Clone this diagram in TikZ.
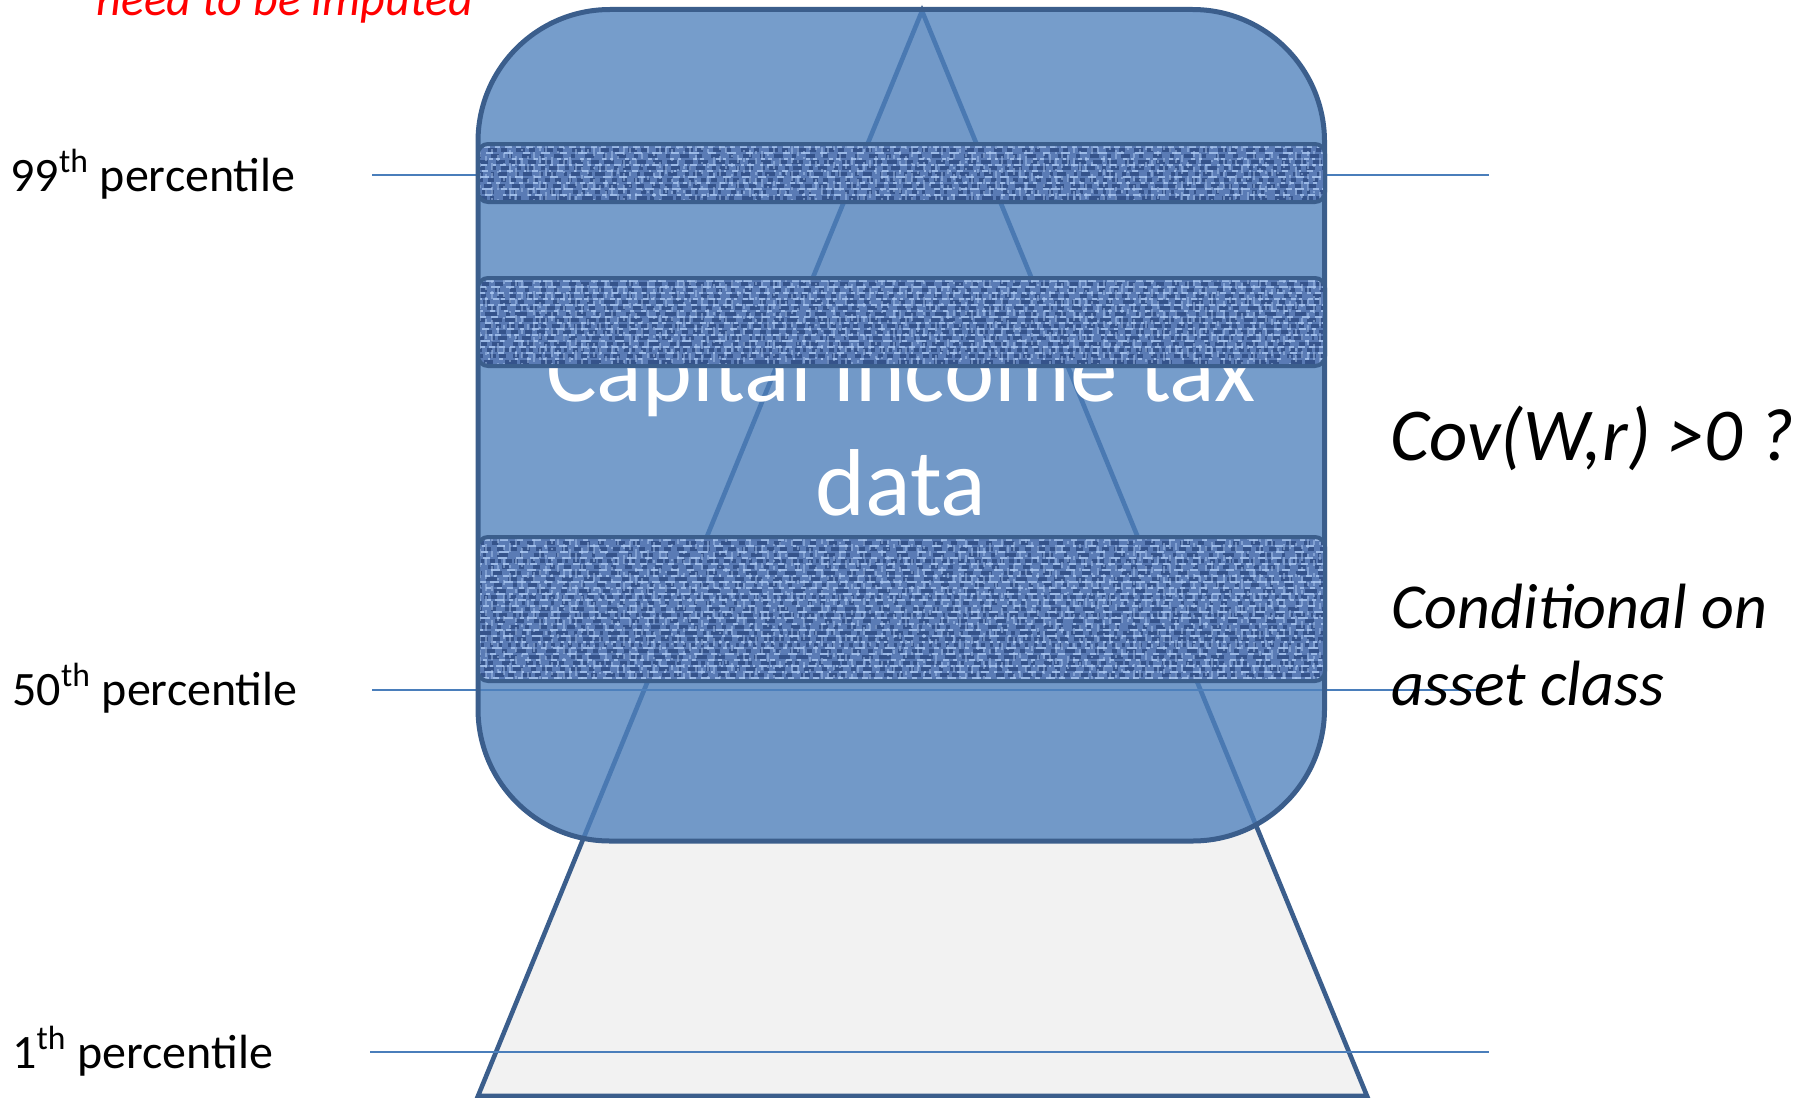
\documentclass[tikz,border=0pt]{standalone}
\usepackage{fontspec}
\setmainfont{Carlito}
\definecolor{rectfill}{HTML}{4F81BD}
\definecolor{edgeblue}{HTML}{3B5E8C}
\definecolor{thinblue}{HTML}{4A7EBB}
\definecolor{trifill}{HTML}{F2F2F2}
\definecolor{denimbase}{HTML}{5A7BB5}
\definecolor{denimdark}{HTML}{26437A}
\definecolor{denimlight}{HTML}{B2CEF7}
\newcommand\denimband[2]{%
  \begin{scope}
    \clip[rounded corners=5pt] (478,#1) rectangle (1325,#2);
    \fill[denimbase] (478,#1) rectangle (1325,#2);
    \pgfmathtruncatemacro\ystart{#1}%
    \pgfmathtruncatemacro\ynext{#1+6}%
    \foreach \yy in {\ystart,\ynext,...,#2}{%
      \pgfmathsetmacro\da{1.2+5*rnd}\pgfmathsetmacro\db{1.2+5*rnd}%
      \pgfmathsetmacro\dc{1.2+5*rnd}\pgfmathsetmacro\dd{1.2+5*rnd}%
      \pgfmathsetmacro\ph{30*rnd}%
      \draw[denimdark, opacity=0.7, line width=2pt,
        dash pattern=on \da pt off \db pt on \dc pt off \dd pt, dash phase=\ph pt]
        (478,\yy) -- (1325,\yy);
      \pgfmathsetmacro\da{1+4*rnd}\pgfmathsetmacro\db{1.2+5*rnd}%
      \pgfmathsetmacro\dc{1+4*rnd}\pgfmathsetmacro\dd{1.2+5*rnd}%
      \pgfmathsetmacro\ph{30*rnd}%
      \draw[denimlight, opacity=0.75, line width=1.4pt,
        dash pattern=on \da pt off \db pt on \dc pt off \dd pt, dash phase=\ph pt]
        (478,\yy+3) -- (1325,\yy+3);
    }
    \foreach \xx in {480,486,...,1324}{%
      \pgfmathsetmacro\da{1+4*rnd}\pgfmathsetmacro\db{1.5+5*rnd}%
      \pgfmathsetmacro\dc{1+4*rnd}\pgfmathsetmacro\dd{1.5+5*rnd}%
      \pgfmathsetmacro\ph{30*rnd}%
      \draw[denimlight, opacity=0.45, line width=1.1pt,
        dash pattern=on \da pt off \db pt on \dc pt off \dd pt, dash phase=\ph pt]
        (\xx,#1) -- (\xx,#2);
    }
  \end{scope}
  \draw[edgeblue, line width=2pt, rounded corners=5pt] (478,#1) rectangle (1325,#2);
}
\begin{document}
\begin{tikzpicture}[x=0.5pt,y=-0.5pt,
  thinline/.style={thinblue, line width=1pt},
  leftlabel/.style={anchor=base west, inner sep=0pt, text=black, font=\fontsize{24}{29}\selectfont},
  boxtext/.style={anchor=base, inner sep=0pt, text=white, font=\fontsize{47.5}{57}\selectfont},
  righttext/.style={anchor=base west, inner sep=0pt, text=black}]
\useasboundingbox (0,0) rectangle (1808,1097);
\pgfmathsetseed{11}

% triangle (pyramid)
\coordinate (apex) at (922,11);
\coordinate (bl) at (478,1096);
\coordinate (br) at (1367,1096);
\draw[fill=trifill, draw=edgeblue, line width=2.3pt, line join=miter] (apex) -- (br) -- (bl) -- cycle;

% percentile lines
\coordinate (l1a) at (372,175);  \coordinate (l1b) at (1489,175);
\coordinate (l2a) at (372,690);  \coordinate (l2b) at (1489,690);
\coordinate (l3a) at (370,1052); \coordinate (l3b) at (1489,1052);
\draw[thinline] (l1a) -- (l1b);
\draw[thinline] (l2a) -- (l2b);
\draw[thinline] (l3a) -- (l3b);

% capital income tax data box
\draw[fill=rectfill, fill opacity=0.78, draw=edgeblue, line width=2.5pt, rounded corners=66pt]
  (478,9.5) rectangle (1324.5,841);
\node[boxtext] (cap) at (901,401) {Capital income tax};
\node[boxtext] (data) at (901,515) {data};

% textured bands
\denimband{144}{202}
\denimband{278}{366}
\denimband{537}{681}

% labels
\node[anchor=base west, inner sep=0pt, text=red, font=\fontsize{24}{29}\selectfont\itshape] (imp) at (96,16) {need to be imputed};
\node[leftlabel] (p99) at (10,191) {99\textsuperscript{th} percentile};
\node[leftlabel] (p50) at (12,705) {50\textsuperscript{th} percentile};
\node[leftlabel] (p1) at (12,1068) {1\textsuperscript{th} percentile};
\node[righttext, font=\fontsize{37.3}{45}\selectfont\itshape] (cov) at (1390,460) {Cov(W,r) >0 ?};
\node[righttext, font=\fontsize{32}{38.5}\selectfont\itshape] (cond1) at (1391,628) {Conditional on};
\node[righttext, font=\fontsize{32}{38.5}\selectfont\itshape] (cond2) at (1391,705) {asset class};
\end{tikzpicture}
\end{document}
